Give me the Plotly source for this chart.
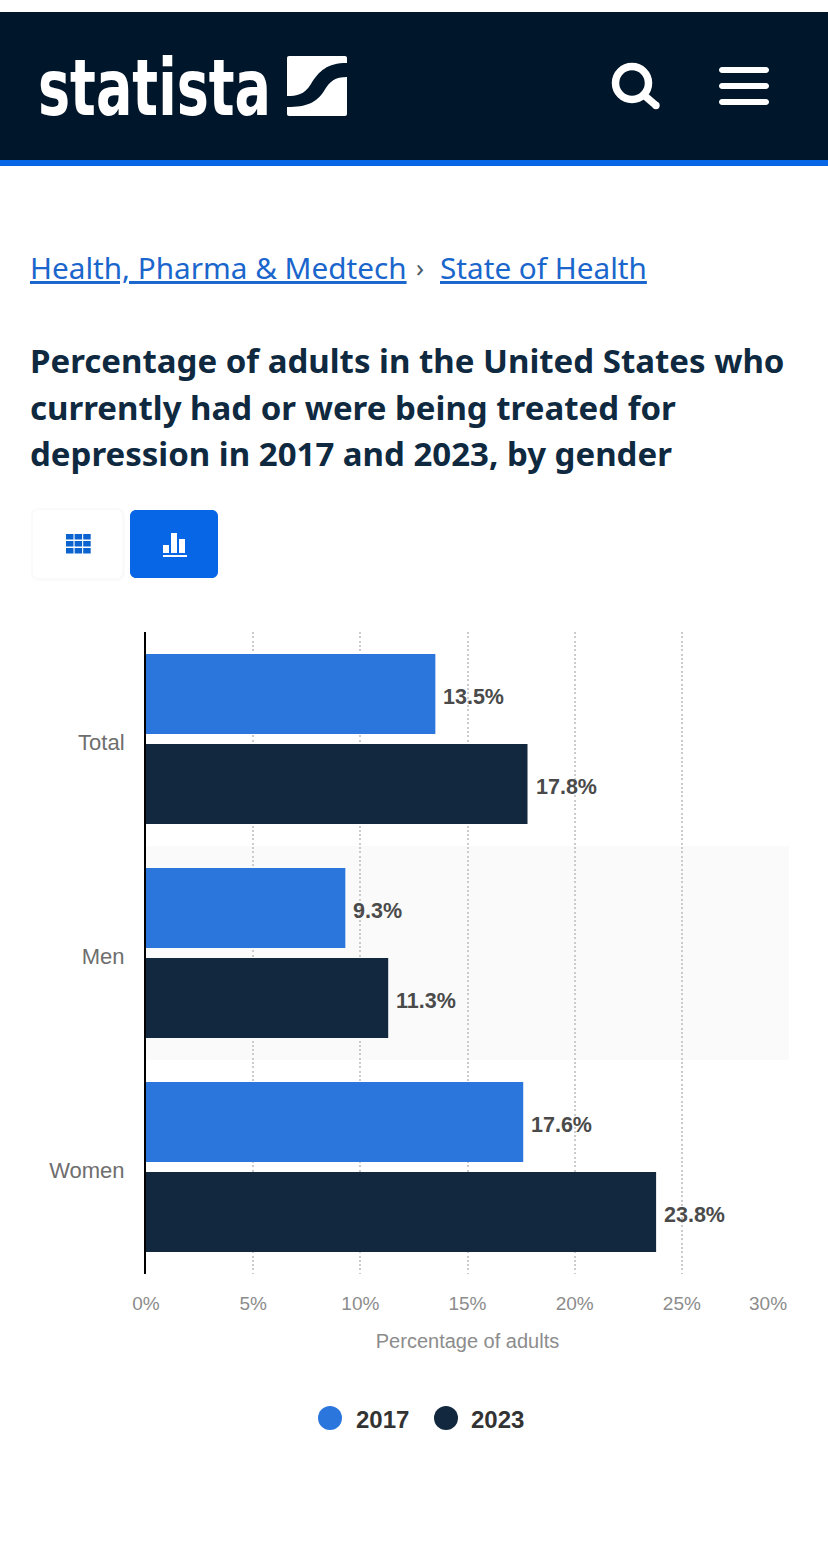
import plotly.graph_objects as go

categories = ["Total", "Men", "Women"]
years = ["2017", "2023"]
values_2017 = [13.5, 9.3, 17.6]
values_2023 = [17.8, 11.3, 23.8]
x_ticks = [0, 5, 10, 15, 20, 25, 30]
x_labels = ["0%", "5%", "10%", "15%", "20%", "25%", ""]
title_lines = [
    "Percentage of adults in the United States who",
    "currently had or were being treated for",
    "depression in 2017 and 2023, by gender",
]

W, H = 828, 1546
ML, MR, MT, MB = 146, 39, 632, 272
PW, PH = W - ML - MR, H - MT - MB
C17, C23 = "#2a76dd", "#12283f"
ARIAL = "Liberation Sans"
NOTO = "Noto Sans"
BLUE = "#0666e5"
LINK = "#1a66cc"
NAVY = "#00162b"


def X(p):
    return (p - ML) / PW


def Y(p):
    return 1 - (p - MT) / PH


def P(a, b):
    return f"{X(a):.5f},{Y(b):.5f}"


def path(points, close=True):
    return "M " + " L ".join(P(a, b) for a, b in points) + (" Z" if close else "")


def rrect(x0, y0, x1, y1, r):
    k = r * 0.45
    s = [
        f"M {P(x0+r, y0)}", f"L {P(x1-r, y0)}",
        f"C {P(x1-k, y0)} {P(x1, y0+k)} {P(x1, y0+r)}",
        f"L {P(x1, y1-r)}",
        f"C {P(x1, y1-k)} {P(x1-k, y1)} {P(x1-r, y1)}",
        f"L {P(x0+r, y1)}",
        f"C {P(x0+k, y1)} {P(x0, y1-k)} {P(x0, y1-r)}",
        f"L {P(x0, y0+r)}",
        f"C {P(x0, y0+k)} {P(x0+k, y0)} {P(x0+r, y0)} Z",
    ]
    return " ".join(s)


shapes = []


def rect(x0, y0, x1, y1, color, layer="above"):
    shapes.append(dict(type="rect", xref="paper", yref="paper", x0=X(x0), x1=X(x1), y0=Y(y1), y1=Y(y0),
                       fillcolor=color, line_width=0, layer=layer))


def fill_path(d, color, line=None, lw=0):
    shapes.append(dict(type="path", xref="paper", yref="paper", path=d, fillcolor=color,
                       line=dict(color=line or color, width=lw), layer="above"))


def stroke(x0, y0, x1, y1, color, w):
    shapes.append(dict(type="path", xref="paper", yref="paper", path=path([(x0, y0), (x1, y1)], False),
                       line=dict(color=color, width=w), layer="above"))


def circle(cx, cy, r, fill, line=None, lw=0):
    shapes.append(dict(type="circle", xref="paper", yref="paper", x0=X(cx - r), x1=X(cx + r),
                       y0=Y(cy + r), y1=Y(cy - r), fillcolor=fill,
                       line=dict(color=line or fill, width=lw), layer="above"))


# header
rect(0, 12, W, 160, NAVY)
rect(0, 160, W, 166, BLUE)
# logo mark: white square crossed by a dark S band
fill_path(rrect(287, 56, 347, 116, 2), "#ffffff")
fill_path(f"M {P(287, 96)} C {P(297, 96)} {P(304, 95)} {P(311, 84)} "
          f"C {P(319, 71)} {P(327, 63)} {P(347, 63)} L {P(347, 77)} "
          f"C {P(335, 77)} {P(330, 81)} {P(324, 91)} "
          f"C {P(316, 103)} {P(307, 107)} {P(287, 107)} Z", NAVY)
# search and menu icons
circle(632, 83, 16.5, "rgba(0,0,0,0)", "#ffffff", 7.5)
stroke(645, 96, 656, 105.5, "#ffffff", 7.5)
circle(656, 105.5, 3.7, "#ffffff")
for yy in (70, 86, 102):
    fill_path(rrect(719, yy - 3, 769, yy + 3, 3), "#ffffff")

# view buttons
fill_path(rrect(31, 508, 125, 581, 8), "#fafafa")
fill_path(rrect(33, 510, 122, 578, 6), "#ffffff")
fill_path(rrect(130, 510, 218, 578, 6), BLUE)
for i in range(3):
    for j in range(3):
        rect(66 + i * 8.6, 534 + j * 7, 73.5 + i * 8.6, 539.5 + j * 7, "#0b63d0")
rect(163, 545, 169, 553, "#ffffff")
rect(171, 533, 177, 553, "#ffffff")
rect(179, 539, 185, 553, "#ffffff")
rect(163, 555, 187, 557, "#ffffff")

# highlighted band behind the Men row, in axis coordinates
shapes.append(dict(type="rect", xref="x", yref="y", x0=x_ticks[0], x1=x_ticks[-1], y0=0.5, y1=1.5,
                   fillcolor="#fafafa", line_width=0, layer="below"))

# legend
circle(330, 1418, 12, C17)
circle(446, 1418, 12, C23)

annotations = []


def text(x, y, s, size, color, font=ARIAL, anchor="left"):
    annotations.append(dict(xref="paper", yref="paper", x=X(x), y=Y(y), text=s, showarrow=False,
                            xanchor=anchor, yanchor="middle", align=anchor,
                            font=dict(family=font, size=size, color=color)))


text(36, 86.5, "<b>statista</b>", 60, "#ffffff", "DejaVu Sans Condensed")
text(28, 267, "<u>Health, Pharma &amp; Medtech</u>", 29.7, LINK, NOTO)
text(414, 267, "›", 26, "#4a5a6a", NOTO)
text(438, 267, "<u>State of Health</u>", 29.7, LINK, NOTO)
for i, line in enumerate(title_lines):
    text(28, 361 + i * 46, f"<b>{line}</b>", 33, "#0f2a40", NOTO)
text(789, 1303, "30%", 19, "#8c8c8c", ARIAL, "right")
text(354, 1419, f"<b>{years[0]}</b>", 24, "#333333")
text(469, 1419, f"<b>{years[1]}</b>", 24, "#333333")

# data labels next to the bar ends
for vals, shift in ((values_2017, 42), (values_2023, -48)):
    for c, v in zip(categories, vals):
        annotations.append(dict(x=v, y=c, xref="x", yref="y", text=f"<b>{v}%</b>", showarrow=False,
                                xanchor="left", yanchor="middle", xshift=6, yshift=shift,
                                font=dict(family=ARIAL, size=21.5, color="#4a4a4a")))

fig = go.Figure()
fig.add_bar(y=categories, x=values_2017, name=years[0], orientation="h", marker_color=C17, marker_line_width=0)
fig.add_bar(y=categories, x=values_2023, name=years[1], orientation="h", marker_color=C23, marker_line_width=0)

fig.update_layout(
    width=W, height=H, margin=dict(l=ML, r=MR, t=MT, b=MB, autoexpand=False),
    paper_bgcolor="#ffffff", plot_bgcolor="#ffffff", showlegend=False,
    barmode="group", bargap=0.159, bargroupgap=0.111,
    shapes=shapes, annotations=annotations,
    xaxis=dict(range=[x_ticks[0], x_ticks[-1]], tickmode="array", tickvals=x_ticks, ticktext=x_labels,
               showgrid=True, gridcolor="#cbcbcb", griddash="2px,2.3px", gridwidth=2, zeroline=False, showline=False,
               ticks="", tickfont=dict(family=ARIAL, size=19, color="#8c8c8c"), ticklabelstandoff=16,
               title=dict(text="Percentage of adults", standoff=20,
                          font=dict(family=ARIAL, size=20, color="#8c8c8c"))),
    yaxis=dict(categoryorder="array", categoryarray=categories, autorange=False, range=[2.5, -0.5],
               showgrid=False, zeroline=False, showline=True, linecolor="#000000", linewidth=2,
               ticks="", ticklabelstandoff=15, ticklabelshift=-3,
               tickfont=dict(family=ARIAL, size=22, color="#6e6e6e")),
)

# stretch the wordmark vertically, as the logo's lettering is taller than any installed font
post = """
document.body.style.margin='0';document.body.style.overflow='hidden';
document.querySelectorAll('.annotation-text').forEach(function(t){
  if(t.textContent==='statista'){t.style.transformBox='fill-box';t.style.transformOrigin='center';t.style.transform='scaleY(1.32)';}
});
"""
fig.write_html("out.html", post_script=post, config={"displayModeBar": False})
